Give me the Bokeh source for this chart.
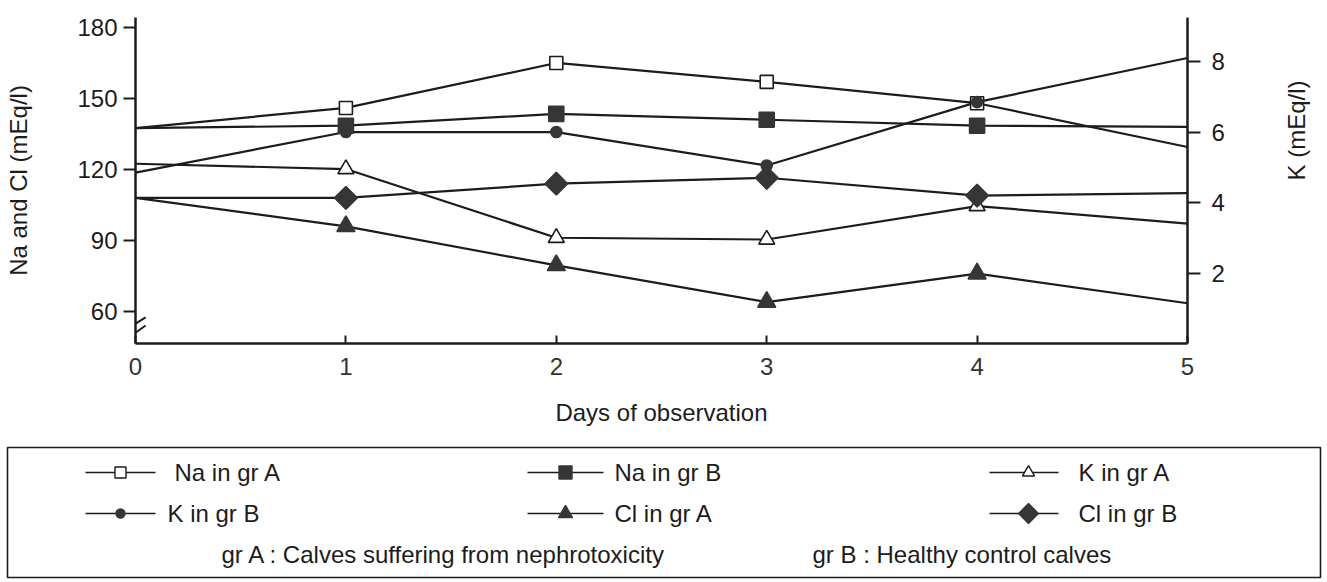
import math
from bokeh.plotting import figure
from bokeh.models import (Range1d, LinearAxis, FixedTicker, ColumnDataSource,
                          CDSView, IndexFilter, Arrow)
from bokeh.layouts import column
from bokeh.embed import file_html
from bokeh.resources import INLINE
from bokeh.core.properties import value

# ---------------- data ----------------
days = [0, 1, 2, 3, 4, 5]
na_gr_a = [137.5, 146, 165, 157, 148, 129.5]
na_gr_b = [137.5, 138.5, 143.5, 141, 138.5, 138]
k_gr_a = [5.1, 4.95, 3.0, 2.95, 3.9, 3.4]
k_gr_b = [4.85, 6.0, 6.0, 5.05, 6.85, 8.1]
cl_gr_a = [108, 96, 79.5, 64, 76, 63.5]
cl_gr_b = [108, 108, 114, 116.5, 109, 110]

left_ticks = [60, 90, 120, 150, 180]
right_ticks = [2, 4, 6, 8]
series_names = ["Na in gr A", "Na in gr B", "K in gr A",
                "K in gr B", "Cl in gr A", "Cl in gr B"]
group_notes = ["gr A : Calves suffering from nephrotoxicity",
               "gr B : Healthy control calves"]

# ---------------- styles ----------------
FONT = "Liberation Sans"
INK = "#1c1c1c"
FILL = "#363636"
marked_days = [1, 2, 3, 4]

styles = [
    # values, range, marker, size, fill, angle, legend size
    (na_gr_a, "default", "square", 13, "white", 0.0, 11),
    (na_gr_b, "default", "square", 15, FILL, 0.0, 13),
    (k_gr_a, "k", "triangle", 16, "white", 0.0, 12),
    (k_gr_b, "k", "circle", 11, FILL, 0.0, 9),
    (cl_gr_a, "default", "triangle", 18, FILL, 0.0, 14),
    (cl_gr_b, "default", "square", 16, FILL, math.pi / 4, 14),
]

# ---------------- main chart ----------------
p = figure(frame_width=1052, frame_height=326,
           x_range=Range1d(0, 5), y_range=Range1d(46.5, 184.2),
           output_backend="svg", toolbar_location=None,
           min_border_left=135, min_border_right=140,
           min_border_top=17, min_border_bottom=97,
           outline_line_color=None, background_fill_color="white",
           border_fill_color="white")
p.extra_y_ranges = {"k": Range1d(0, 9.25)}
p.grid.visible = False


def style_axis(ax):
    ax.axis_line_color = INK
    ax.axis_line_width = 2.5
    ax.major_tick_line_color = INK
    ax.major_tick_line_width = 2
    ax.minor_tick_in = 0
    ax.minor_tick_out = 0
    ax.major_label_text_font = FONT
    ax.major_label_text_font_size = "24px"
    ax.major_label_text_color = INK
    ax.axis_label_text_font = FONT
    ax.axis_label_text_font_size = "24px"
    ax.axis_label_text_font_style = "normal"
    ax.axis_label_text_color = INK


xa = p.xaxis[0]
style_axis(xa)
xa.ticker = FixedTicker(ticks=days)
xa.major_tick_in = 8
xa.major_tick_out = 0
xa.major_label_standoff = 14
xa.major_label_text_color = "#333333"
xa.axis_label = "Days of observation"
xa.axis_label_standoff = 21

ya = p.yaxis[0]
style_axis(ya)
ya.ticker = FixedTicker(ticks=left_ticks)
ya.major_tick_in = 0
ya.major_tick_out = 12
ya.major_label_standoff = 6
ya.axis_label = "Na and Cl (mEq/l)"
ya.axis_label_standoff = 42

ra = LinearAxis(y_range_name="k", ticker=FixedTicker(ticks=right_ticks))
style_axis(ra)
ra.major_tick_in = 0
ra.major_tick_out = 13
ra.major_label_standoff = 11
ra.axis_label = "K (mEq/l)"
ra.axis_label_standoff = 69
if "axis_label_orientation" in ra.properties():
    ra.axis_label_orientation = math.pi / 2
p.add_layout(ra, "right")

# axis break marks on the left axis
for ys, ye in [(52.8, 57.5), (48.6, 54.1)]:
    p.add_layout(Arrow(end=None, start=None, x_start=-0.038, y_start=ys,
                       x_end=0.048, y_end=ye, line_color=INK, line_width=2))

for name, (vals, rng, marker, size, fill, ang, _) in zip(series_names, styles):
    src = ColumnDataSource(dict(x=days, y=vals))
    p.line("x", "y", source=src, y_range_name=rng, line_color=INK,
           line_width=2.2)
for name, (vals, rng, marker, size, fill, ang, _) in zip(series_names, styles):
    src = ColumnDataSource(dict(x=days, y=vals))
    p.scatter("x", "y", source=src,
              view=CDSView(filter=IndexFilter(indices=marked_days)),
              y_range_name=rng, marker=marker, size=size, angle=ang,
              fill_color=fill, line_color=INK if fill == "white" else FILL,
              line_width=1.6)

# ---------------- legend panel (pixel coordinates) ----------------
LEG_W, LEG_H = 1327, 142
leg = figure(width=LEG_W, height=LEG_H, x_range=Range1d(0, LEG_W),
             y_range=Range1d(LEG_H, 0), output_backend="svg",
             toolbar_location=None, x_axis_type=None, y_axis_type=None,
             min_border=0, outline_line_color=None)
for fig in (p, leg):
    if "frame_align" in fig.properties():
        fig.frame_align = False

leg.quad(left=[7], right=[1320], top=[7], bottom=[137], fill_color=None,
         line_color=INK, line_width=1.6)

col_line_x0 = [85, 527, 989]
col_line_x1 = [155, 603, 1058]
col_mark_x = [120, 565, 1028]
col_text_x = [174, 614, 1078]
row_y = [32, 73]

for i, (name, st) in enumerate(zip(series_names, styles)):
    vals, rng, marker, size, fill, ang, lsize = st
    c, r = i % 3, i // 3
    y = row_y[r]
    leg.segment(x0=[col_line_x0[c]], y0=[y], x1=[col_line_x1[c]], y1=[y],
                line_color=INK, line_width=1.5)
    leg.scatter(x=[col_mark_x[c]], y=[y], marker=marker, size=lsize,
                angle=ang, fill_color=fill,
                line_color=INK if fill == "white" else FILL, line_width=1.4)
    leg.text(x=[col_text_x[c] - (7 if i == 3 else 0)], y=[y], text=[name],
             text_font=value(FONT), text_font_size="24px",
             text_baseline="middle", text_align="left", text_color=INK)

leg.text(x=[221, 812], y=[114, 114], text=group_notes,
         text_font=value(FONT), text_font_size="24px",
         text_baseline="middle", text_align="left", text_color=INK)

layout = column(p, leg, spacing=0)
open("out.html", "w").write(file_html(layout, INLINE))
